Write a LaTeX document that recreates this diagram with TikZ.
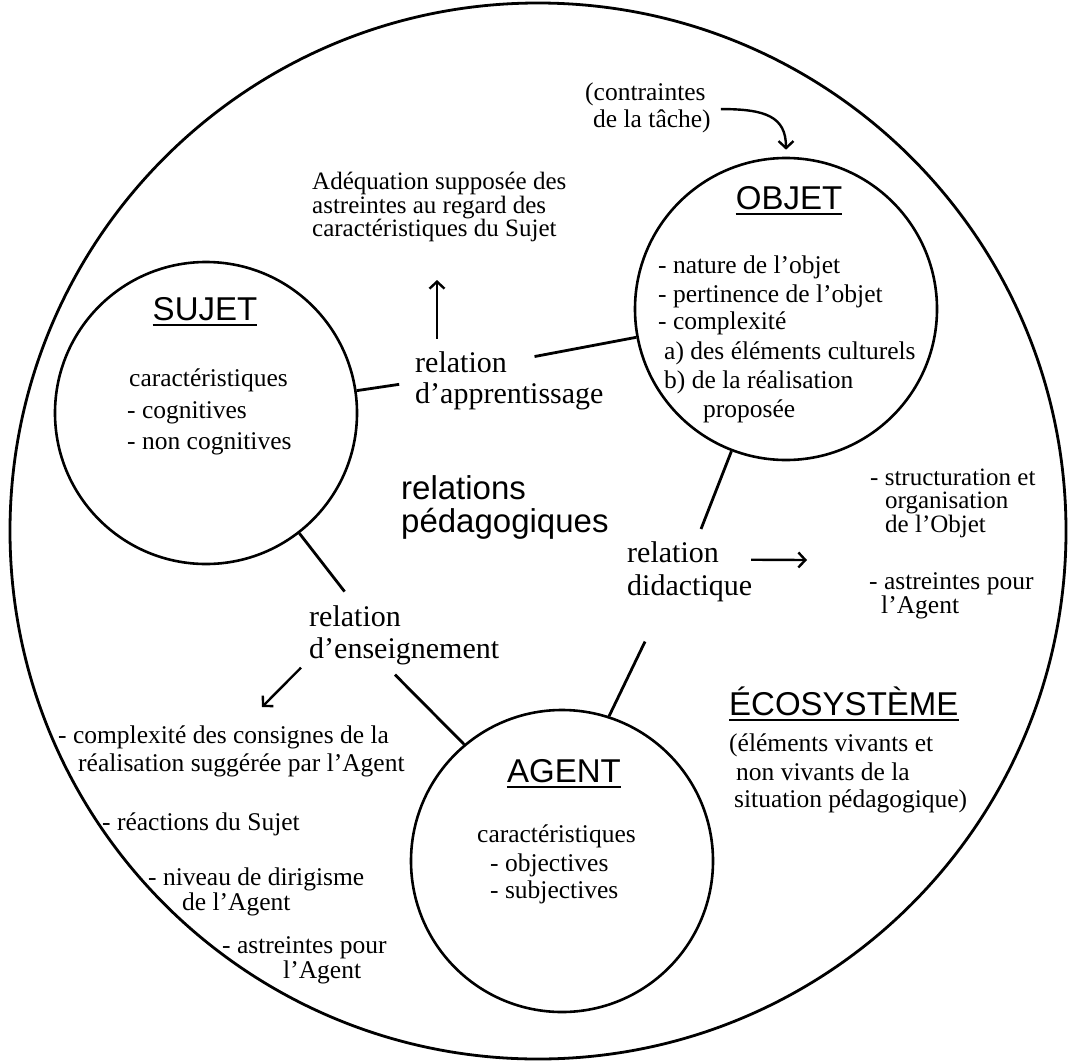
\documentclass[tikz,border=0pt]{standalone}
\usepackage{fontspec}
\setmainfont{Liberation Serif}
\setsansfont{Liberation Sans}
\usetikzlibrary{arrows.meta}

\tikzset{
  bulle/.style={draw,circle,line width=2.6pt,minimum size=302pt,inner sep=0pt},
  titre/.style={font=\sffamily\fontsize{33}{33}\selectfont,inner sep=0pt,anchor=base},
  txt/.style={font=\fontsize{25.5}{28}\selectfont,inner sep=0pt,anchor=base west},
  rel/.style={font=\fontsize{30}{32}\selectfont,inner sep=0pt,anchor=base west},
  lien/.style={line width=2.8pt},
  fleche/.style={line width=2.4pt,-{Straight Barb[length=7pt,width=15pt]}}
}

\begin{document}
\begin{tikzpicture}[x=1pt,y=-1pt]
\useasboundingbox (0,0) rectangle (1078,1060);
% les cercles
\node[bulle,line width=2.8pt,minimum size=1056pt] (eco) at (538,531) {};
\node[bulle] (sujet) at (206,413) {}; \node[bulle] (objet) at (786,309) {};
\node[bulle] (agent) at (562,861) {};
% titres soulignes
\node[titre] (sujetT) at (205,320) {SUJET}; \node[titre] (objetT) at (789,209) {OBJET};
\node[titre] (agentT) at (564,782) {AGENT};
\node[titre,anchor=base west] (ecoT) at (729,715) {ÉCOSYSTÈME};
\foreach \t in {sujetT,objetT,agentT,ecoT}
  \draw[line width=2pt] ([yshift=-5pt]\t.base west) -- ([yshift=-5pt]\t.base east);
\node[titre,anchor=base west] (relP) at (401,499) {relations};
\node[titre,anchor=base west] (relPb) at (401,532) {pédagogiques};
% sujet
\node[txt] (s1) at (129,386) {caractéristiques}; \node[txt] (s2) at (127,418) {- cognitives};
\node[txt] (s3) at (127,449) {- non cognitives};
% objet
\node[txt] (o1) at (658,273) {- nature de l'objet}; \node[txt] (o2) at (658,302) {- pertinence de l'objet};
\node[txt] (o3) at (658,329) {- complexité}; \node[txt] (o4) at (664,359) {a) des éléments culturels};
\node[txt] (o5) at (664,388) {b) de la réalisation}; \node[txt] (o6) at (703,417) {proposée};
% agent
\node[txt] (g1) at (477,842) {caractéristiques}; \node[txt] (g2) at (490,871) {- objectives};
\node[txt] (g3) at (490,898) {- subjectives};
% notes autour
\node[txt,font=\fontsize{25}{28}\selectfont] (a1) at (312,189.5) {Adéquation supposée des};
\node[txt,font=\fontsize{25}{28}\selectfont] (a2) at (312,213) {astreintes au regard des};
\node[txt,font=\fontsize{25}{28}\selectfont] (a3) at (312,236.5) {caractéristiques du Sujet};
\node[txt] (c1) at (585,100) {(contraintes}; \node[txt] (c2) at (593,127) {de la tâche)};
\node[txt,font=\fontsize{25}{28}\selectfont] (d1) at (870,485) {- structuration et};
\node[txt,font=\fontsize{25}{28}\selectfont] (d2) at (885,508.5) {organisation};
\node[txt,font=\fontsize{25}{28}\selectfont] (d3) at (885,532) {de l'Objet};
\node[txt] (d4) at (869,589) {- astreintes pour}; \node[txt] (d5) at (881,613) {l'Agent};
\node[txt] (e1) at (729,751) {(éléments vivants et}; \node[txt] (e2) at (736,780) {non vivants de la};
\node[txt] (e3) at (734,807) {situation pédagogique)};
\node[txt] (n1) at (58,743) {- complexité des consignes de la};
\node[txt] (n2) at (78,771) {réalisation suggérée par l'Agent};
\node[txt] (n3) at (102,830) {- réactions du Sujet};
\node[txt] (n4) at (148,885) {- niveau de dirigisme}; \node[txt] (n5) at (182,910) {de l'Agent};
\node[txt] (n6) at (222,953) {- astreintes pour}; \node[txt] (n7) at (283,978) {l'Agent};
% relations
\node[rel] (relA) at (415,372) {relation}; \node[rel] (relAb) at (415,403) {d'apprentissage};
\node[rel] (relD) at (627,562) {relation}; \node[rel] (relDb) at (627,595) {didactique};
\node[rel] (relE) at (309,626) {relation}; \node[rel] (relEb) at (309,658) {d'enseignement};
% liens
\draw[lien,shorten >=16pt] (sujet) -- (relAb.north west);
\draw[lien,shorten <=28pt] (relA.east) -- (objet);
\draw[lien] (objet.-111) -- ([xshift=-18pt,yshift=12pt]relD.north east);
\draw[lien] (agent.72) -- ([xshift=18pt,yshift=-40pt]relDb.south west);
\draw[lien,shorten >=17pt] (sujet) -- (relE.north);
\draw[lien] ([xshift=86pt,yshift=-10pt]relEb.south west) -- (agent.130);
% fleches
\coordinate (versObjet) at (807,560); \coordinate (versSujet) at (262,707);
\draw[fleche] ([xshift=22pt,yshift=12pt]relA.north west) -- ([xshift=125pt,yshift=-38pt]a3.south west);
\draw[fleche] ([xshift=10pt]c2.north east) .. controls ([xshift=55pt]c2.north east) and ([yshift=40pt]objet.north) .. ([yshift=7pt]objet.north);
\draw[fleche] ([xshift=32pt,yshift=-8pt]relD.east) -- (versObjet);
\draw[fleche] ([xshift=-8pt,yshift=-3pt]relEb.south west) -- (versSujet);
\end{tikzpicture}
\end{document}
